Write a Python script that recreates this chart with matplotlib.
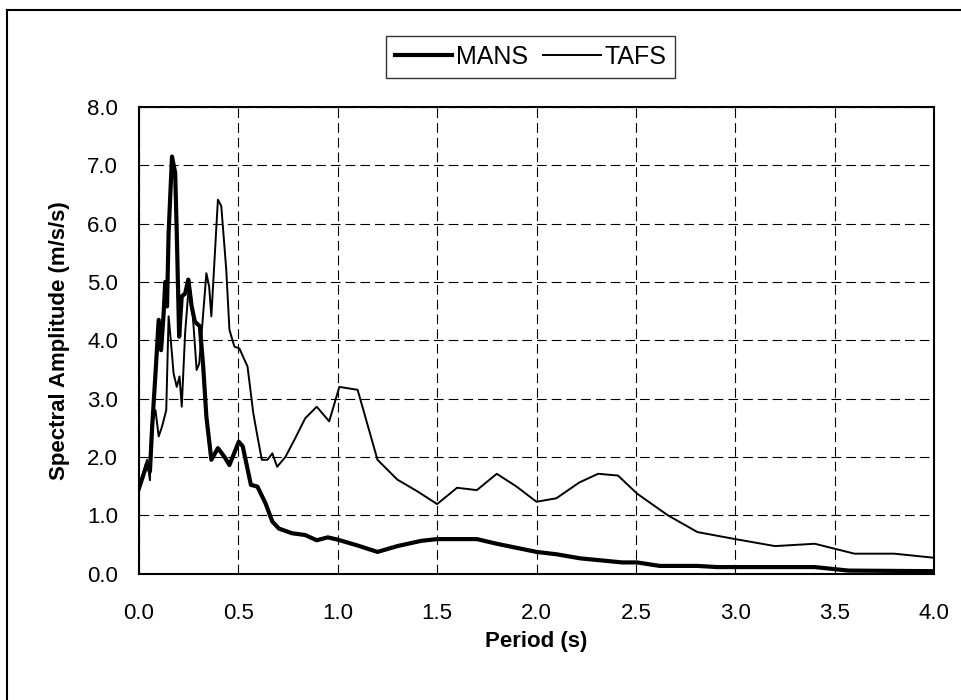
import matplotlib
matplotlib.use("Agg")
import matplotlib.pyplot as plt
from matplotlib.lines import Line2D

# Okresy i amplitudy widmowe
mans_period = [0, 0.041, 0.055, 0.066, 0.083, 0.099, 0.111, 0.124, 0.132, 0.141,
               0.149, 0.166, 0.182, 0.19, 0.202, 0.215, 0.232, 0.248, 0.265, 0.281,
               0.306, 0.323, 0.339, 0.364, 0.397, 0.43, 0.455, 0.502, 0.522, 0.563,
               0.596, 0.637, 0.671, 0.704, 0.77, 0.836, 0.894, 0.95, 1.0, 1.1,
               1.2, 1.3, 1.42, 1.5, 1.7, 1.8, 2.0, 2.1, 2.22, 2.43,
               2.506, 2.62, 2.81, 2.91, 3.4, 3.57, 4.0]
mans_amp = [1.46, 1.89, 1.75, 2.5, 3.43, 4.35, 3.83, 4.46, 5.0, 4.58,
            5.84, 7.15, 6.87, 5.84, 4.06, 4.75, 4.8, 5.04, 4.58, 4.32,
            4.24, 3.55, 2.69, 1.95, 2.15, 2.0, 1.86, 2.26, 2.18, 1.52,
            1.49, 1.2, 0.89, 0.77, 0.69, 0.66, 0.57, 0.62, 0.58, 0.48,
            0.37, 0.47, 0.56, 0.59, 0.59, 0.51, 0.37, 0.33, 0.26, 0.19,
            0.19, 0.13, 0.13, 0.11, 0.11, 0.05, 0.04]

tafs_period = [0, 0.025, 0.041, 0.055, 0.061, 0.071, 0.083, 0.099, 0.116, 0.137,
               0.149, 0.157, 0.174, 0.19, 0.204, 0.215, 0.232, 0.253, 0.27, 0.29,
               0.303, 0.323, 0.339, 0.353, 0.364, 0.397, 0.414, 0.439, 0.455, 0.48,
               0.505, 0.546, 0.575, 0.596, 0.618, 0.646, 0.671, 0.695, 0.737, 0.786,
               0.836, 0.894, 0.957, 1.008, 1.10, 1.20, 1.30, 1.40, 1.50, 1.60,
               1.70, 1.80, 1.90, 2.0, 2.1, 2.215, 2.31, 2.41, 2.506, 2.66,
               2.81, 3.0, 3.2, 3.4, 3.6, 3.8, 4.0]
tafs_amp = [1.46, 1.77, 1.95, 1.6, 2.52, 2.63, 2.8, 2.35, 2.52, 2.8,
            4.41, 4.12, 3.43, 3.2, 3.38, 2.86, 4.12, 5.04, 4.46, 3.49,
            3.6, 4.46, 5.15, 4.92, 4.41, 6.41, 6.3, 5.21, 4.18, 3.89,
            3.86, 3.55, 2.75, 2.35, 1.95, 1.95, 2.06, 1.83, 2.0, 2.32,
            2.66, 2.86, 2.61, 3.2, 3.15, 1.95, 1.61, 1.41, 1.19, 1.47,
            1.43, 1.71, 1.49, 1.23, 1.29, 1.56, 1.71, 1.68, 1.37, 1.0,
            0.71, 0.59, 0.47, 0.51, 0.34, 0.34, 0.27]

x_ticks = [0.0, 0.5, 1.0, 1.5, 2.0, 2.5, 3.0, 3.5, 4.0]
y_ticks = [0.0, 1.0, 2.0, 3.0, 4.0, 5.0, 6.0, 7.0, 8.0]

plt.rcParams['font.family'] = ['Liberation Sans', 'DejaVu Sans']
plt.rcParams['lines.scale_dashes'] = False

W, H = 962, 700
fig = plt.figure(figsize=(W / 100, H / 100), dpi=100)

# ramka wokół całego wykresu (tylko lewa i górna krawędź widoczna)
fig.add_artist(Line2D([7 / W, 1.0], [1 - 10 / H, 1 - 10 / H], color='black', lw=1.5))
fig.add_artist(Line2D([7 / W, 7 / W], [0.0, 1 - 10 / H], color='black', lw=1.5))

left, right, top, bottom = 139, 934, 107, 573.5
ax = fig.add_axes([left / W, 1 - bottom / H, (right - left) / W, (bottom - top) / H])

ax.plot(mans_period, mans_amp, color='black', lw=3.0, label='MANS', solid_joinstyle='round')
ax.plot(tafs_period, tafs_amp, color='black', lw=1.4, label='TAFS')

ax.set_xlim(0, 4)
ax.set_ylim(0, 8)
ax.set_xticks(x_ticks)
ax.set_yticks(y_ticks)
ax.set_xticklabels([f"{v:.1f}" for v in x_ticks])
ax.set_yticklabels([f"{v:.1f}" for v in y_ticks])
ax.tick_params(length=0, labelsize=16, pad=0)
ax.tick_params(axis='x', pad=21)
ax.tick_params(axis='y', pad=15)

ax.grid(True, color='black', lw=0.8, linestyle=(0, (7, 3.6)))
for s in ax.spines.values():
    s.set_linewidth(1.5)

ax.set_xlabel("Period (s)", fontsize=16, fontweight='bold', labelpad=5)
ax.set_ylabel("Spectral Amplitude (m/s/s)", fontsize=16, fontweight='bold', labelpad=12)

leg = ax.legend(loc='center', bbox_to_anchor=(530.5 / W, 1 - 57 / H),
                bbox_transform=fig.transFigure, ncol=2, fontsize=18,
                frameon=True, fancybox=False, handlelength=2.3,
                handletextpad=0.15, columnspacing=0.6, borderpad=0.35)
leg.get_frame().set_edgecolor('black')
leg.get_frame().set_linewidth(1.0)

fig.savefig("out.png", dpi=100)
